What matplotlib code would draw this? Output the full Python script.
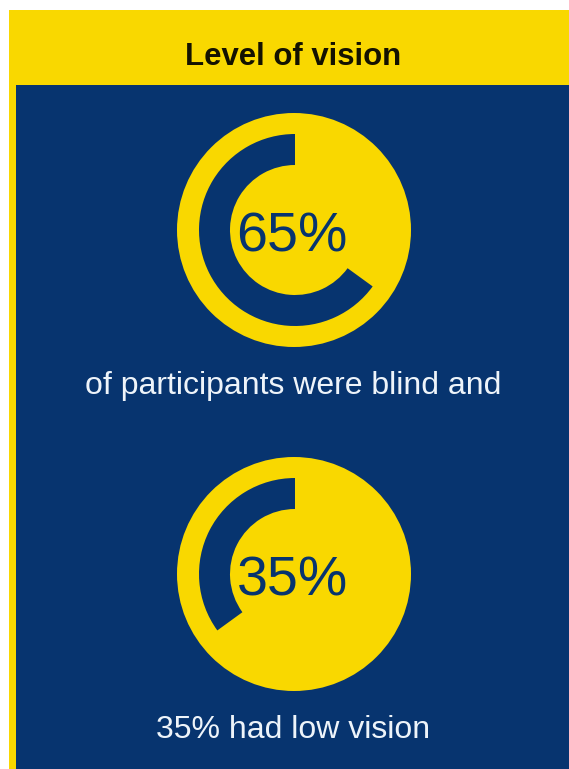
import matplotlib
matplotlib.use("Agg")
import matplotlib.pyplot as plt
from matplotlib.patches import Rectangle, Circle, Wedge

# --- data read from the infographic ---
title = "Level of vision"
shares = [65, 35]                       # percent of participants
share_labels = ["65%", "35%"]
captions = ["of participants were blind and", "35% had low vision"]

# --- colours ---
YELLOW = "#F9D800"
NAVY = "#07346F"
WHITE_TXT = "#EEF4FA"

W, H = 569, 769
fig = plt.figure(figsize=(W / 100, H / 100), dpi=100)
fig.patch.set_facecolor("white")
ax = fig.add_axes([0, 0, 1, 1])
ax.set_xlim(0, W)
ax.set_ylim(0, H)
ax.set_aspect("equal")
ax.axis("off")


def y(px):
    # pixel rows measured from the top -> data coords
    return H - px


# frame: yellow header + yellow left strip, navy panel
ax.add_patch(Rectangle((9, y(H)), W - 9, H - 10, facecolor=YELLOW, edgecolor="none"))
ax.add_patch(Rectangle((16, y(H)), W - 16, H - 85, facecolor=NAVY, edgecolor="none"))

ax.text(293, y(65), title, ha="center", va="baseline", fontsize=22.4,
        fontweight="bold", color="#141200", family=["Liberation Sans", "DejaVu Sans"])

cx = 294
centers = [230, 574]
caption_base = [394, 738]
r_disc, r_out, r_in = 117, 96, 65

for pct, lab, cy, cap, cb in zip(shares, share_labels, centers, captions, caption_base):
    ax.add_patch(Circle((cx, y(cy)), r_disc, facecolor=YELLOW, edgecolor="none"))
    ax.add_patch(Wedge((cx + 1, y(cy)), r_out, 90, 90 + pct * 3.6,
                       width=r_out - r_in, facecolor=NAVY, edgecolor="none"))
    ax.text(292, y(cy + 22), lab, ha="center", va="baseline", fontsize=40,
            color=NAVY, family=["Liberation Sans", "DejaVu Sans"])
    ax.text(293, y(cb), cap, ha="center", va="baseline", fontsize=23,
            color=WHITE_TXT, family=["Liberation Sans", "DejaVu Sans"])

fig.savefig("out.png", dpi=100, facecolor=fig.get_facecolor())
